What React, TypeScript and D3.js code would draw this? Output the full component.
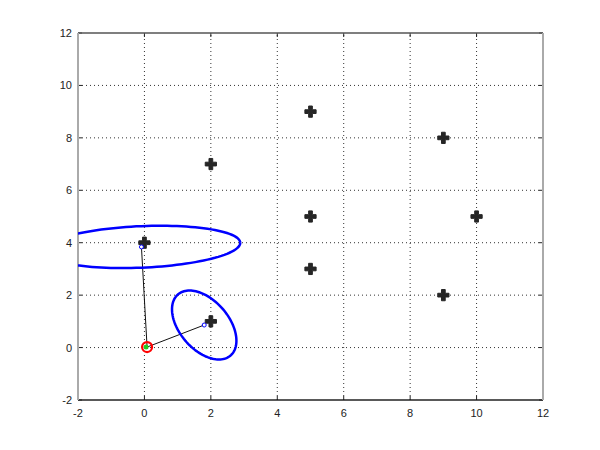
import React from 'react';
import * as d3 from 'd3';

// landmarks (true positions)
const landmarkX = [0, 2, 2, 5, 5, 5, 9, 9, 10];
const landmarkY = [4, 1, 7, 9, 5, 3, 8, 2, 5];

// robot pose
const robotX = 0.08;
const robotY = 0.02;

// estimated landmarks: mean and covariance [sxx, syy, sxy]
const estX = [-0.09, 1.8];
const estY = [3.84, 0.86];
const estCov = [
  [8.85, 0.652, 0.459],
  [0.94, 1.73, -0.58],
];

const xTicks = [-2, 0, 2, 4, 6, 8, 10, 12];
const yTicks = [-2, 0, 2, 4, 6, 8, 10, 12];

const W = 600;
const H = 450;
const margin = { left: 78, right: 57, top: 33, bottom: 50 };

function ellipsePath(cx: number, cy: number, cov: number[], x: d3.ScaleLinear<number, number>, y: d3.ScaleLinear<number, number>) {
  const [sxx, syy, sxy] = cov;
  // cholesky
  const l11 = Math.sqrt(sxx);
  const l21 = sxy / l11;
  const l22 = Math.sqrt(syy - l21 * l21);
  const pts: [number, number][] = d3.range(0, 361, 3).map((deg) => {
    const t = (deg * Math.PI) / 180;
    const c = Math.cos(t);
    const s = Math.sin(t);
    return [x(cx + l11 * c), y(cy + l21 * c + l22 * s)];
  });
  return d3.line()(pts) as string;
}

export default function App() {
  const x = d3.scaleLinear().domain([-2, 12]).range([margin.left, W - margin.right]);
  const y = d3.scaleLinear().domain([-2, 12]).range([H - margin.bottom, margin.top]);
  const x0 = margin.left;
  const x1 = W - margin.right;
  const y0 = H - margin.bottom;
  const y1 = margin.top;
  const cross = d3.symbol().type(d3.symbolCross).size(70)() as string;

  return (
    <svg width={W} height={H} style={{ position: 'absolute', left: 0, top: 0, background: '#fff' }}
      fontFamily="'Liberation Sans', Arial, sans-serif" fontSize={11}>
      <defs>
        <clipPath id="plot">
          <rect x={x0} y={y1} width={x1 - x0} height={y0 - y1} />
        </clipPath>
      </defs>
      <rect x={0} y={0} width={W} height={H} fill="#fff" />
      {/* grid */}
      {xTicks.slice(1, -1).map((t) => (
        <line key={'gx' + t} x1={x(t)} x2={x(t)} y1={y0} y2={y1} stroke="#333" strokeWidth={1} strokeDasharray="1,3" />
      ))}
      {yTicks.slice(1, -1).map((t) => (
        <line key={'gy' + t} x1={x0} x2={x1} y1={y(t)} y2={y(t)} stroke="#333" strokeWidth={1} strokeDasharray="1,3" />
      ))}
      {/* ticks */}
      {xTicks.map((t) => (
        <g key={'tx' + t}>
          <line x1={x(t)} x2={x(t)} y1={y0} y2={y0 - 4} stroke="#222" />
          <line x1={x(t)} x2={x(t)} y1={y1} y2={y1 + 4} stroke="#222" />
          <text x={x(t)} y={y0 + 17} textAnchor="middle" fill="#222">{t}</text>
        </g>
      ))}
      {yTicks.map((t) => (
        <g key={'ty' + t}>
          <line x1={x0} x2={x0 + 4} y1={y(t)} y2={y(t)} stroke="#222" />
          <line x1={x1} x2={x1 - 4} y1={y(t)} y2={y(t)} stroke="#222" />
          <text x={x0 - 6} y={y(t) + 4} textAnchor="end" fill="#222">{t}</text>
        </g>
      ))}
      {/* box */}
      <line x1={x0} x2={x1} y1={y1} y2={y1} stroke="#555" strokeWidth={1.5} />
      <line x1={x0} x2={x1} y1={y0} y2={y0} stroke="#222" strokeWidth={1.5} />
      <line x1={x0} x2={x0} y1={y1} y2={y0} stroke="#aaa" strokeWidth={2} />
      <line x1={x1} x2={x1} y1={y1} y2={y0} stroke="#aaa" strokeWidth={2} />

      <g clipPath="url(#plot)">
        {landmarkX.map((lx, i) => (
          <path key={'lm' + i} d={cross} transform={`translate(${x(lx)},${y(landmarkY[i])})`}
            fill="#262626" stroke="#262626" strokeWidth={1} />
        ))}
        {estX.map((ex, i) => (
          <line key={'ln' + i} x1={x(robotX)} y1={y(robotY)} x2={x(ex)} y2={y(estY[i])} stroke="#111" strokeWidth={1} />
        ))}
        {estX.map((ex, i) => (
          <path key={'el' + i} d={ellipsePath(ex, estY[i], estCov[i], x, y)} fill="none" stroke="#0000ff" strokeWidth={2.5} />
        ))}
        {estX.map((ex, i) => (
          <circle key={'ec' + i} cx={x(ex)} cy={y(estY[i])} r={2} fill="#fff" stroke="#0000ff" strokeWidth={1} />
        ))}
        <circle cx={x(robotX) - 1} cy={y(robotY)} r={2.5} fill="#22cc22" />
        <circle cx={x(robotX)} cy={y(robotY)} r={5} fill="none" stroke="#ff0000" strokeWidth={2.2} />
      </g>
    </svg>
  );
}
